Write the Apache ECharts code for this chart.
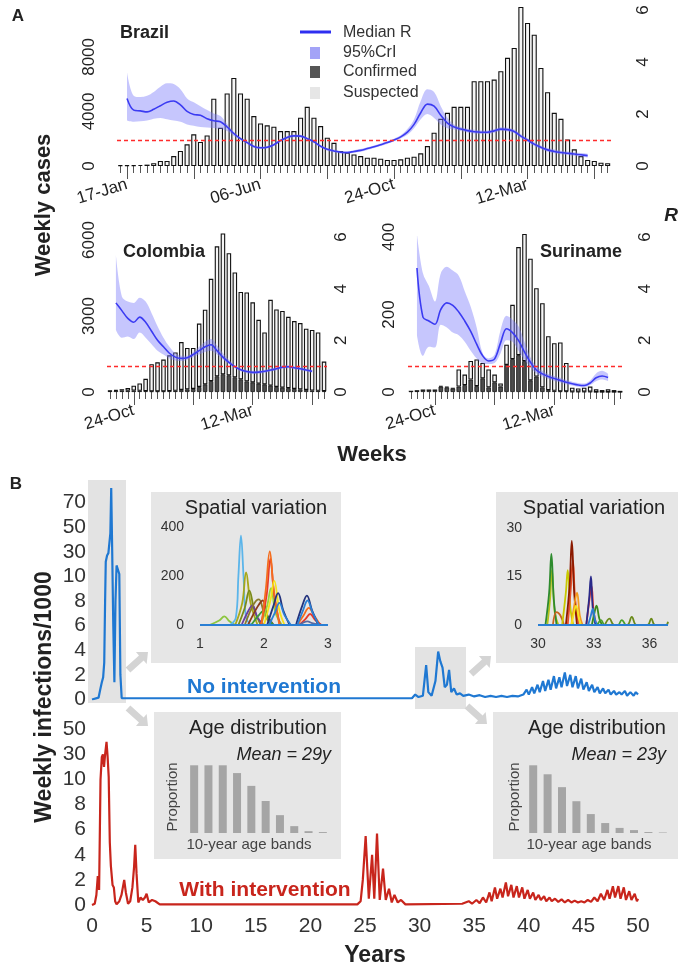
<!DOCTYPE html>
<html>
<head>
<meta charset="utf-8">
<script src="https://cdn.jsdelivr.net/npm/echarts@6/dist/echarts.min.js"></script>
<style>
  html, body { margin: 0; padding: 0; background: #fff; }
  #chart { width: 681px; height: 973px; }
</style>
</head>
<body>
<div id="chart"></div>
<script>
// ---------- Panel A: weekly cases and R ----------
const brazilTotal = [60,60,60,80,100,200,370,370,730,1100, 1590,2320,1760,2240,4930,2800,5320,6460,5320,4930,
  3660,3120,2980,2880,2560,2560,2560,3540,4340,3540, 2930,2070,1700,1100,980,850,730,610,610,540,
  440,440,490,610,680,930,1460,2440,3460,3900, 4340,4340,4340,6220,6220,6220,6340,6950,7930,8660,
  11660,10490,9630,7190,5410,3900,3460,1950,1220,730, 440,370,240,200];
const brazilMed = [null,2.6,2.15,2.12,2.08,2.18,2.32,2.45,2.5,2.35, 2.1,1.98,1.95,1.82,1.74,1.7,1.5,1.25,1.05,0.9,
  0.75,0.7,0.72,0.82,0.98,1.1,1.16,1.15,1.05,0.93, 0.76,0.64,0.58,0.53,0.52,0.56,0.6,0.67,0.74,0.82,
  0.9,1.0,1.12,1.3,1.6,2.05,2.38,2.3,1.95,1.65, 1.5,1.42,1.36,1.32,1.3,1.3,1.35,1.42,1.4,1.33,
  1.15,1.0,0.84,0.72,0.62,0.56,0.52,0.49,0.46,0.43, 0.4,null,null,null];
const brazilHi = [null,3.6,2.7,2.65,2.7,2.85,3.05,3.18,3.15,2.95, 2.6,2.45,2.3,2.15,2.02,1.92,1.62,1.32,1.1,0.95,
  0.8,0.75,0.77,0.87,1.03,1.15,1.21,1.2,1.1,0.98, 0.81,0.69,0.63,0.58,0.57,0.61,0.65,0.72,0.79,0.87,
  0.95,1.05,1.18,1.42,1.8,2.5,2.95,2.85,2.3,1.85, 1.6,1.5,1.43,1.39,1.37,1.37,1.42,1.49,1.47,1.4,
  1.22,1.07,0.91,0.79,0.69,0.63,0.59,0.56,0.53,0.5, 0.47,null,null,null];
const brazilLo = [null,1.75,1.7,1.72,1.75,1.82,1.85,1.8,1.75,1.7, 1.6,1.55,1.5,1.48,1.46,1.42,1.35,1.15,1.0,0.85,
  0.7,0.65,0.67,0.77,0.93,1.05,1.11,1.1,1.0,0.88, 0.71,0.59,0.53,0.48,0.47,0.51,0.55,0.62,0.69,0.77,
  0.85,0.95,1.06,1.2,1.45,1.8,2.0,1.85,1.6,1.45, 1.4,1.35,1.29,1.25,1.23,1.23,1.28,1.35,1.33,1.26,
  1.08,0.93,0.77,0.65,0.55,0.49,0.45,0.42,0.39,0.36, 0.33,null,null,null];
const brazilTickIdx = [1, 21, 41, 61];
const brazilTickLab = ['17-Jan', '06-Jun', '24-Oct', '12-Mar'];
const brazilLongTicks = [1, 11, 21, 31, 41, 51, 61, 71];

const colombiaTotal = [50,80,110,160,250,340,520,1100,1170,1280, 1450,1560,1970,1740,1740,2700,3250,4470,5750,6260,
  5480,4720,3950,3930,3540,2850,2350,3640,3260,3200, 2970,2800,2720,2500,2450,2350,1200];
const colombiaConf = [40,50,60,60,60,50,40,30,30,30, 40,50,80,100,120,200,300,430,620,700,
  660,580,500,420,380,330,300,250,200,170, 150,120,100,80,60,50,40];
const colombiaMed = [null,3.45,3.15,2.85,2.7,2.9,2.7,2.35,2.0,1.75, 1.5,1.35,1.3,1.33,1.45,1.6,1.75,1.83,1.6,1.35,
  1.15,0.98,0.86,0.79,0.76,0.77,0.8,0.85,0.9,0.96, 0.98,0.94,0.9,0.85,0.8,null,null];
const colombiaHi = [null,5.3,3.7,3.5,3.45,3.65,3.5,3.05,2.55,2.1, 1.75,1.5,1.4,1.4,1.55,1.75,1.95,2.05,1.8,1.5,
  1.25,1.04,0.92,0.85,0.82,0.83,0.86,0.91,0.96,1.02, 1.04,1.0,0.96,0.91,0.86,null,null];
const colombiaLo = [null,2.4,2.1,2.15,2.05,2.3,2.1,1.85,1.6,1.45, 1.3,1.22,1.2,1.25,1.35,1.45,1.55,1.6,1.45,1.25,
  1.08,0.92,0.8,0.73,0.7,0.71,0.74,0.79,0.84,0.9, 0.92,0.88,0.84,0.79,0.74,null,null];

const surinameTotal = [2,3,5,5,5,16,14,10,58,45, 80,84,75,58,45,22,122,225,374,408,
  344,268,229,144,126,128,75,11,9,11, 14,7,5,7,5,3];
const surinameConf = [2,3,5,5,5,14,12,9,14,18, 32,15,35,12,25,14,70,85,95,80,
  30,40,12,5,3,2,2,1,1,1, 1,0,0,0,0,0];
const surinameMed = [null,4.8,2.9,2.75,2.62,3.2,3.45,3.35,3.1,2.75, 2.35,1.85,1.4,1.2,1.28,1.9,2.45,2.3,2.0,1.55,
  1.15,0.85,0.7,0.6,0.52,0.45,0.38,0.32,0.27,0.25, 0.35,0.55,0.62,0.56,null,null];
const surinameHi = [null,6.1,4.6,4.1,3.5,4.6,4.85,4.7,4.5,3.9, 3.3,2.5,1.5,1.3,1.45,2.4,2.95,2.8,2.55,1.95,
  1.35,1.0,0.82,0.7,0.62,0.55,0.46,0.4,0.35,0.33, 0.45,0.72,0.82,0.7,null,null];
const surinameLo = [null,2.2,1.4,1.75,1.72,2.6,2.5,2.3,2.2,1.95, 1.6,1.3,1.1,1.08,1.12,1.5,2.0,1.95,1.6,1.25,
  0.95,0.72,0.6,0.5,0.43,0.37,0.3,0.25,0.2,0.18, 0.27,0.42,0.48,0.42,null,null];
const lateTickIdx = [4, 24];
const lateTickLab = ['24-Oct', '12-Mar'];
const lateLongTicks = [4, 14, 24, 34];

// ---------- Panel B: weekly infections per 1000 ([year, value]) ----------
const noIntervention = [[0,0],[0.6,0.15],[0.75,0.8],[0.9,1.4],[1.02,1.8],[1.12,3],[1.2,8],[1.26,22],[1.38,27],[1.5,29],
  [1.58,28],[1.68,45],[1.76,82],[1.85,30],[1.95,6],[2.05,1.4],[2.15,8],[2.25,19],[2.4,18],[2.5,12],[2.6,2],[2.72,0.1],
  [29.3,0.1],[29.6,0.4],[29.9,0.2],[30.3,0.3],[30.6,2.8],[30.8,0.6],[31.1,0.3],[31.45,1.5],[31.7,3.9],[31.9,3.1],
  [32.1,2.6],[32.3,1.0],[32.5,1.2],[32.7,2.4],[32.9,0.6],[33.15,0.9],[33.4,0.4],[33.7,0.5],[34.0,0.3],[34.5,0.4],
  [35.0,0.25],[35.5,0.35],[36.0,0.2],[36.5,0.3],[37.0,0.2],[37.5,0.3],[38.0,0.2],[38.5,0.3],[39.0,0.25],[39.5,0.4],
  [39.8,0.8],[40.0,0.4],[40.3,1.0],[40.5,0.5],[40.8,1.2],[41.0,0.6],[41.3,1.5],[41.5,0.7],[41.8,1.6],[42.0,0.8],
  [42.3,1.9],[42.5,0.9],[42.8,1.8],[43.0,1.0],[43.3,2.2],[43.5,1.1],[43.8,2.0],[44.0,1.0],[44.3,1.9],[44.5,0.9],
  [44.8,1.7],[45.0,0.8],[45.3,1.4],[45.5,0.7],[45.8,1.2],[46.0,0.6],[46.3,1.0],[46.5,0.5],[46.8,0.9],[47.0,0.5],
  [47.3,0.8],[47.5,0.4],[47.8,0.7],[48.0,0.4],[48.3,0.6],[48.5,0.4],[48.8,0.7],[49.0,0.3],[49.3,0.6],[49.6,0.3],
  [49.8,0.6],[50.0,0.4]];
const withIntervention = [[0,0],[0.25,0.1],[0.4,0.8],[0.53,2.3],[0.65,1.2],[0.78,10],[0.9,28],[1.0,30],[1.1,20],[1.2,30],
  [1.33,40],[1.43,28],[1.53,12],[1.63,5],[1.73,3.1],[1.88,1.6],[2.0,1.4],[2.12,0.3],[2.25,0.05],[2.5,0.3],[2.7,0.8],
  [2.95,2.0],[3.1,1.0],[3.3,0.1],[3.5,0.3],[3.7,1.4],[3.85,3.0],[3.96,4.8],[4.08,2.5],[4.24,0.2],[4.45,0.6],[4.65,0.4],
  [4.85,0.6],[5.0,0.9],[5.2,0.2],[5.5,0.4],[5.8,0.3],[6.2,0.05],[24.3,0.05],[24.6,0.3],[24.8,2],[25.06,5.5],
  [25.35,0.5],[25.65,4.0],[25.85,0.5],[26.1,5.7],[26.35,0.4],[26.65,2.9],[26.9,0.4],[27.2,1.3],[27.45,0.2],[27.7,0.8],
  [28.0,0.2],[28.3,0.4],[28.7,0.05],[33.9,0.1],[34.5,0.3],[34.8,0.1],[35.2,0.4],[35.5,0.15],[35.8,0.6],[36.1,0.2],
  [36.4,1.0],[36.6,0.3],[36.9,1.4],[37.1,0.5],[37.4,1.3],[37.6,0.6],[37.9,1.8],[38.1,0.7],[38.4,1.6],[38.6,0.6],
  [38.9,1.5],[39.1,0.6],[39.4,1.4],[39.6,0.5],[39.9,1.2],[40.1,0.5],[40.4,1.0],[40.6,0.4],[40.9,0.8],[41.1,0.4],
  [41.4,0.7],[41.6,0.3],[41.9,0.6],[42.1,0.3],[42.4,0.5],[42.7,0.25],[43.0,0.45],[43.3,0.2],[43.6,0.4],[43.9,0.2],
  [44.2,0.35],[44.5,0.2],[44.8,0.3],[45.1,0.2],[45.4,0.4],[45.7,0.25],[46.0,0.6],[46.3,0.3],[46.6,0.9],[46.9,0.4],
  [47.2,1.2],[47.4,0.5],[47.7,1.5],[47.9,0.6],[48.2,1.5],[48.4,0.5],[48.7,1.4],[48.9,0.4],[49.2,1.1],[49.4,0.4],
  [49.7,0.9],[49.9,0.3],[50.0,0.5]];
const topYLabels = ['0','2','4','6','8','10','30','50','70',''];
const bottomYLabels = ['0','2','4','6','8','10','30','50'];

// inset curves: spatial variation, [year, infections]
const spatialLeft = [
  {c:'#8cc63f', p:[[1.15,0],[1.3,18],[1.38,35],[1.46,15],[1.55,0]]},
  {c:'#5bb5ea', p:[[1.47,0],[1.56,30],[1.6,200],[1.64,365],[1.68,200],[1.72,30],[1.8,0]]},
  {c:'#a8a81a', p:[[1.55,0],[1.66,90],[1.72,215],[1.79,90],[1.9,0]]},
  {c:'#7a8b1a', p:[[1.6,0],[1.7,70],[1.77,140],[1.85,60],[1.95,0]]},
  {c:'#6b3fa0', p:[[1.65,0],[1.75,55],[1.82,80],[1.9,30],[2.0,0]]},
  {c:'#8b7b2a', p:[[1.7,0],[1.84,85],[1.92,105],[2.0,50],[2.1,0]]},
  {c:'#8b3a1a', p:[[1.75,0],[1.9,75],[1.98,100],[2.05,40],[2.15,0]]},
  {c:'#3a9a3a', p:[[1.8,0],[1.92,40],[2.0,60],[2.08,20],[2.15,0]]},
  {c:'#9ad43a', p:[[1.95,0],[2.05,80],[2.11,150],[2.18,50],[2.28,0]]},
  {c:'#e8382a', p:[[1.95,0],[2.04,120],[2.1,270],[2.16,120],[2.25,0]]},
  {c:'#f46d1e', p:[[1.96,0],[2.03,150],[2.09,300],[2.15,150],[2.24,0]]},
  {c:'#f5e31a', p:[[2.0,0],[2.1,100],[2.16,180],[2.24,60],[2.32,0]]},
  {c:'#23337d', p:[[2.05,0],[2.15,80],[2.22,130],[2.3,60],[2.4,0]]},
  {c:'#2a7fd4', p:[[2.08,0],[2.17,50],[2.24,90],[2.32,40],[2.42,0]]},
  {c:'#f46d1e', p:[[2.52,0],[2.62,40],[2.7,70],[2.78,40],[2.88,0]]},
  {c:'#e8382a', p:[[2.55,0],[2.65,25],[2.72,45],[2.8,20],[2.9,0]]},
  {c:'#5a6aa0', p:[[2.55,0],[2.68,15],[2.75,8],[2.9,0]]},
  {c:'#23337d', p:[[2.5,0],[2.6,80],[2.67,120],[2.75,60],[2.85,0]]},
  {c:'#2a7fd4', p:[[2.52,0],[2.61,60],[2.68,100],[2.76,50],[2.86,0]]},
  {c:'#2a7fd4', p:[[1,0],[3,0]]}
];
const spatialRight = [
  {c:'#b5c21a', p:[[30.5,0],[30.65,8],[30.75,17],[30.9,4],[31.1,0]]},
  {c:'#2e8b2e', p:[[30.4,0],[30.6,10],[30.72,22],[30.85,8],[31.0,0]]},
  {c:'#c86420', p:[[30.8,0],[31.0,4],[31.2,3],[31.4,0]]},
  {c:'#c8c800', p:[[31.3,0],[31.5,10],[31.6,17],[31.75,5],[31.9,0]]},
  {c:'#e8502a', p:[[31.6,0],[31.75,10],[31.88,20],[32.0,8],[32.2,0]]},
  {c:'#8b1a00', p:[[31.5,0],[31.7,12],[31.82,26],[31.95,10],[32.1,0]]},
  {c:'#f49a1e', p:[[31.8,0],[31.95,6],[32.1,10],[32.25,3],[32.4,0]]},
  {c:'#f5e31a', p:[[31.8,0],[31.95,4],[32.05,6],[32.2,2],[32.3,0]]},
  {c:'#e8382a', p:[[32.6,0],[32.75,7],[32.88,12],[33.0,4],[33.15,0]]},
  {c:'#2a2a8a', p:[[32.6,0],[32.75,8],[32.85,15],[32.95,5],[33.1,0]]},
  {c:'#3a8a1a', p:[[32.9,0],[33.05,4],[33.15,6],[33.3,2],[33.45,0]]},
  {c:'#2a7fd4', p:[[32.7,0],[32.85,3],[32.95,5],[33.1,1],[33.25,0]]},
  {c:'#6a8a1a', p:[[33.6,0],[33.85,2],[34.1,0],[34.8,0],[35.05,2.5],[35.3,0],[35.9,0],[36.1,2],[36.3,0],[36.9,0],[37.0,1]]},
  {c:'#4aa02a', p:[[33.2,0],[33.4,1.5],[33.6,0],[34.3,0],[34.5,1.5],[34.7,0]]},
  {c:'#2a7fd4', p:[[30,0],[37,0]]}
];
// age distribution (relative proportion in 10-year bands)
const ageBands = ['0-9','10-19','20-29','30-39','40-49','50-59','60-69','70-79','80-89','90+'];
const ageLeft = [0.148,0.148,0.148,0.131,0.103,0.07,0.039,0.015,0.004,0.002];
const ageRight = [0.279,0.242,0.189,0.131,0.078,0.041,0.021,0.012,0.004,0.002];

// ---------- build chart ----------
const FONT = '"Liberation Sans", Arial, Helvetica, sans-serif';
const chart = echarts.init(document.getElementById('chart'));
const grid = [], xAxis = [], yAxis = [], series = [];

const noAxis = { axisLine: {show: false}, axisTick: {show: false}, splitLine: {show: false} };
const hiddenLine = {show: true, lineStyle: {opacity: 0}};

function addPanelA(cfg) {
  const g = grid.length;
  grid.push({left: cfg.left, top: cfg.top, width: cfg.width, height: cfg.height});
  const cats = cfg.total.map((_, i) => String(i));
  const xi = xAxis.length, yi = yAxis.length;
  const tickColor = '#555';
  // every week: short ticks
  xAxis.push({type: 'category', gridIndex: g, position: 'bottom', data: cats, offset: 3,
    axisLine: hiddenLine, axisLabel: {show: false}, splitLine: {show: false},
    axisTick: {show: true, interval: 0, alignWithLabel: true, length: 7, lineStyle: {color: tickColor, width: 1}}});
  // every tenth week: long ticks and date labels
  xAxis.push({type: 'category', gridIndex: g, position: 'bottom', data: cats, offset: 3,
    axisLine: hiddenLine, splitLine: {show: false},
    axisTick: {show: true, alignWithLabel: true, length: 13, interval: (i) => cfg.longTicks.includes(i),
      lineStyle: {color: tickColor, width: 1}},
    axisLabel: {interval: (i) => cfg.tickIdx.includes(i), formatter: (v, i) => cfg.tickLab[cfg.tickIdx.indexOf(i)],
      rotate: 17, margin: cfg.xMargin, fontSize: 17, color: '#222', fontFamily: FONT}});
  yAxis.push(Object.assign({type: 'value', gridIndex: g, position: 'left', min: 0, max: cfg.ymax, interval: cfg.yint,
    axisLabel: {rotate: 90, margin: cfg.lMargin, fontSize: 17, color: '#222', fontFamily: FONT, showMaxLabel: cfg.showMax,
      align: 'center', verticalAlign: 'bottom', formatter: v => String(v)}}, noAxis));
  yAxis.push(Object.assign({type: 'value', gridIndex: g, position: 'right', min: 0, max: 6, interval: 2,
    axisLabel: {rotate: 90, margin: cfg.rMargin, fontSize: 17, color: '#222', fontFamily: FONT,
      align: 'center', verticalAlign: 'top'}}, noAxis));

  let upper = cfg.total;
  if (cfg.conf) {
    series.push({type: 'bar', xAxisIndex: xi, yAxisIndex: yi, stack: 'cases' + g, data: cfg.conf,
      barCategoryGap: '24%', clip: false,
      itemStyle: {color: '#4d4d4d', borderColor: '#111', borderWidth: 0.8}});
    upper = cfg.total.map((t, i) => t - cfg.conf[i]);
  }
  series.push({type: 'bar', xAxisIndex: xi, yAxisIndex: yi, stack: 'cases' + g, data: upper,
    barCategoryGap: '24%', clip: false,
    itemStyle: {color: '#f5f5f5', borderColor: '#111', borderWidth: 1.1}});
  // credible interval band (lower + width stacked)
  series.push({type: 'line', xAxisIndex: xi, yAxisIndex: yi + 1, stack: 'band' + g, data: cfg.lo,
    smooth: 0.35, symbol: 'none', lineStyle: {opacity: 0}, z: 3});
  series.push({type: 'line', xAxisIndex: xi, yAxisIndex: yi + 1, stack: 'band' + g,
    data: cfg.hi.map((h, i) => h == null ? null : +(h - cfg.lo[i]).toFixed(3)),
    smooth: 0.35, symbol: 'none', lineStyle: {opacity: 0}, areaStyle: {color: 'rgba(125,125,250,0.62)'}, z: 3});
  series.push({type: 'line', xAxisIndex: xi, yAxisIndex: yi + 1, data: cfg.med, smooth: 0.35, symbol: 'none', z: 4,
    lineStyle: {color: '#3b3bf2', width: 1.6},
    markLine: {silent: true, symbol: 'none', label: {show: false},
      lineStyle: {color: '#ff2b2b', type: [4, 3], width: 1.3}, data: [{yAxis: 1}]}});
}

addPanelA({left: 117, top: 10, width: 494, height: 156, total: brazilTotal, med: brazilMed, hi: brazilHi, lo: brazilLo,
  ymax: 11440, yint: 4000, showMax: false, lMargin: 19, rMargin: 24, xMargin: 15,
  tickIdx: brazilTickIdx, tickLab: brazilTickLab, longTicks: brazilLongTicks});
addPanelA({left: 107, top: 237, width: 220, height: 155, total: colombiaTotal, conf: colombiaConf,
  med: colombiaMed, hi: colombiaHi, lo: colombiaLo,
  ymax: 6120, yint: 3000, showMax: false, lMargin: 9, rMargin: 6, xMargin: 15,
  tickIdx: lateTickIdx, tickLab: lateTickLab, longTicks: lateLongTicks});
addPanelA({left: 408, top: 237, width: 215, height: 155, total: surinameTotal, conf: surinameConf,
  med: surinameMed, hi: surinameHi, lo: surinameLo,
  ymax: 400, yint: 200, showMax: true, lMargin: 10, rMargin: 14, xMargin: 15,
  tickIdx: lateTickIdx, tickLab: lateTickLab, longTicks: lateLongTicks});

// panel B uses a broken scale: 0-10 linear, then 10/30/50/70 at equal steps
const toScale = v => v <= 10 ? v / 2 : 5 + (v - 10) / 20;

function addTimeGrid(gTop, height, ymax, labels, showX) {
  const g = grid.length, xi = xAxis.length, yi = yAxis.length;
  grid.push({left: 92, right: 43, top: gTop, height: height});
  xAxis.push(Object.assign({type: 'value', gridIndex: g, min: 0, max: 50, interval: 5,
    axisLabel: {show: showX, fontSize: 21, color: '#333', margin: 11, fontFamily: FONT}}, noAxis));
  yAxis.push(Object.assign({type: 'value', gridIndex: g, min: 0, max: ymax, interval: 1,
    axisLabel: {formatter: v => labels[Math.round(v)], fontSize: 21, color: '#333', margin: 6, fontFamily: FONT}}, noAxis));
  return {xi: xi, yi: yi};
}
const axNoInt = addTimeGrid(478.1, 221.4, 9, topYLabels, false);
series.push({type: 'line', xAxisIndex: axNoInt.xi, yAxisIndex: axNoInt.yi, data: noIntervention.map(d => [d[0], toScale(d[1])]),
  symbol: 'none', lineStyle: {color: '#1f78d2', width: 2.2}, z: 5});
const axWithInt = addTimeGrid(729.3, 175.7, 7, bottomYLabels, true);
series.push({type: 'line', xAxisIndex: axWithInt.xi, yAxisIndex: axWithInt.yi, data: withIntervention.map(d => [d[0], toScale(d[1])]),
  symbol: 'none', lineStyle: {color: '#c8251c', width: 2.2}, z: 5});

function addSpatial(box, xr, yr, curves) {
  const g = grid.length, xi = xAxis.length, yi = yAxis.length;
  grid.push(box);
  xAxis.push(Object.assign({type: 'value', gridIndex: g, min: xr[0], max: xr[1], interval: xr[2],
    axisLabel: {fontSize: 14, color: '#333', margin: 12, fontFamily: FONT, showMaxLabel: xr[3]}}, noAxis));
  yAxis.push(Object.assign({type: 'value', gridIndex: g, min: yr[0], max: yr[1], interval: yr[2],
    axisLabel: {fontSize: 14, color: '#333', margin: 16, fontFamily: FONT}}, noAxis));
  curves.forEach(cv => series.push({type: 'line', xAxisIndex: xi, yAxisIndex: yi, data: cv.p, smooth: 0.4,
    symbol: 'none', lineStyle: {color: cv.c, width: 1.8}, z: 5}));
}
addSpatial({left: 200, top: 527, width: 128, height: 98}, [1, 3, 1, true], [0, 400, 200], spatialLeft);
addSpatial({left: 538, top: 528, width: 130, height: 97}, [30, 37, 3, false], [0, 30, 15], spatialRight);

function addAge(box, ymax, vals) {
  const g = grid.length, xi = xAxis.length, yi = yAxis.length;
  grid.push(box);
  xAxis.push(Object.assign({type: 'category', gridIndex: g, data: ageBands, axisLabel: {show: false}}, noAxis));
  yAxis.push(Object.assign({type: 'value', gridIndex: g, min: 0, max: ymax, axisLabel: {show: false}}, noAxis));
  series.push({type: 'bar', xAxisIndex: xi, yAxisIndex: yi, data: vals, barWidth: 8,
    itemStyle: {color: '#a5a5a5'}, z: 5});
}
addAge({left: 187, top: 763, width: 143, height: 70}, 0.153, ageLeft);
addAge({left: 526, top: 763, width: 144, height: 70}, 0.2885, ageRight);

// ---------- decorations: boxes, arrows, text ----------
const graphic = [];
function rect(x, y, w, h, fill) {
  graphic.push({type: 'rect', z: -10, shape: {x: x, y: y, width: w, height: h}, style: {fill: fill}});
}
function text(t, x, y, font, opts) {
  graphic.push(Object.assign({type: 'text', x: x, y: y, z: 10,
    style: Object.assign({text: t, font: font, fill: '#222', align: 'center', verticalAlign: 'middle'}, opts && opts.style)},
    opts && opts.el));
}
function arrow(x1, y1, x2, y2) {
  const dx = x2 - x1, dy = y2 - y1, L = Math.hypot(dx, dy), ux = dx / L, uy = dy / L, nx = -uy, ny = ux;
  const sw = 3.5, hw = 8, hl = 9, bx = x2 - ux * hl, by = y2 - uy * hl;
  graphic.push({type: 'polygon', z: -5, style: {fill: '#d4d4d4'}, shape: {points: [
    [x1 + nx * sw, y1 + ny * sw], [bx + nx * sw, by + ny * sw], [bx + nx * hw, by + ny * hw], [x2, y2],
    [bx - nx * hw, by - ny * hw], [bx - nx * sw, by - ny * sw], [x1 - nx * sw, y1 - ny * sw]]}});
}

rect(88, 480, 38, 223, '#e3e3e3');
rect(415, 647, 51, 62, '#e3e3e3');
rect(151, 492, 190, 171, '#e6e6e6');
rect(496, 492, 182, 171, '#e6e6e6');
rect(154, 712, 187, 147, '#e6e6e6');
rect(493, 712, 185, 147, '#e6e6e6');
arrow(128, 670, 148, 652);
arrow(128, 708, 148, 726);
arrow(471, 674, 491, 656);
arrow(467, 706, 487, 724);

const B = 'bold ';
text('A', 18, 16, B + '17px ' + FONT);
text('B', 16, 484, B + '17px ' + FONT);
text('Brazil', 120, 33, B + '18px ' + FONT, {style: {align: 'left'}});
text('Colombia', 123, 252, B + '18px ' + FONT, {style: {align: 'left'}});
text('Suriname', 540, 252, B + '18px ' + FONT, {style: {align: 'left'}});
text('Weekly cases', 44, 205, B + '22px ' + FONT, {el: {rotation: Math.PI / 2}});
text('Weeks', 372, 455, B + '22px ' + FONT);
text('R', 671, 216, 'italic bold 19px ' + FONT);

// legend for panel A
graphic.push({type: 'line', z: 10, shape: {x1: 300, y1: 32, x2: 331, y2: 32}, style: {stroke: '#2f2ff0', lineWidth: 3}});
graphic.push({type: 'rect', z: 10, shape: {x: 310, y: 47, width: 10, height: 12}, style: {fill: '#a3a3f7'}});
graphic.push({type: 'rect', z: 10, shape: {x: 310, y: 66, width: 10, height: 12}, style: {fill: '#555'}});
graphic.push({type: 'rect', z: 10, shape: {x: 310, y: 87, width: 10, height: 12}, style: {fill: '#e6e6e6'}});
['Median R', '95%CrI', 'Confirmed', 'Suspected'].forEach((t, i) =>
  text(t, 343, [33, 53, 72, 93][i], '16px ' + FONT, {style: {align: 'left', fill: '#333'}}));

// panel B text
text('Weekly infections/1000', 45, 697, B + '23px ' + FONT, {el: {rotation: Math.PI / 2}});
text('Years', 375, 956, B + '23px ' + FONT);
text('No intervention', 264, 687, B + '21px ' + FONT, {style: {fill: '#1f78d2'}});
text('With intervention', 265, 890, B + '21px ' + FONT, {style: {fill: '#c8251c'}});
text('Spatial variation', 256, 508, '20px ' + FONT);
text('Spatial variation', 594, 508, '20px ' + FONT);
text('Age distribution', 258, 728, '20px ' + FONT);
text('Age distribution', 597, 728, '20px ' + FONT);
text('Mean = 29y', 331, 755, 'italic 18px ' + FONT, {style: {align: 'right'}});
text('Mean = 23y', 666, 755, 'italic 18px ' + FONT, {style: {align: 'right'}});
text('Proportion', 173, 797, '15px ' + FONT, {el: {rotation: Math.PI / 2}, style: {fill: '#444'}});
text('Proportion', 515, 797, '15px ' + FONT, {el: {rotation: Math.PI / 2}, style: {fill: '#444'}});
text('10-year age bands', 249, 845, '15px ' + FONT, {style: {fill: '#444'}});
text('10-year age bands', 589, 845, '15px ' + FONT, {style: {fill: '#444'}});

chart.setOption({
  animation: false,
  backgroundColor: '#fff',
  grid: grid,
  xAxis: xAxis,
  yAxis: yAxis,
  series: series,
  graphic: {elements: graphic}
});
</script>
</body>
</html>
